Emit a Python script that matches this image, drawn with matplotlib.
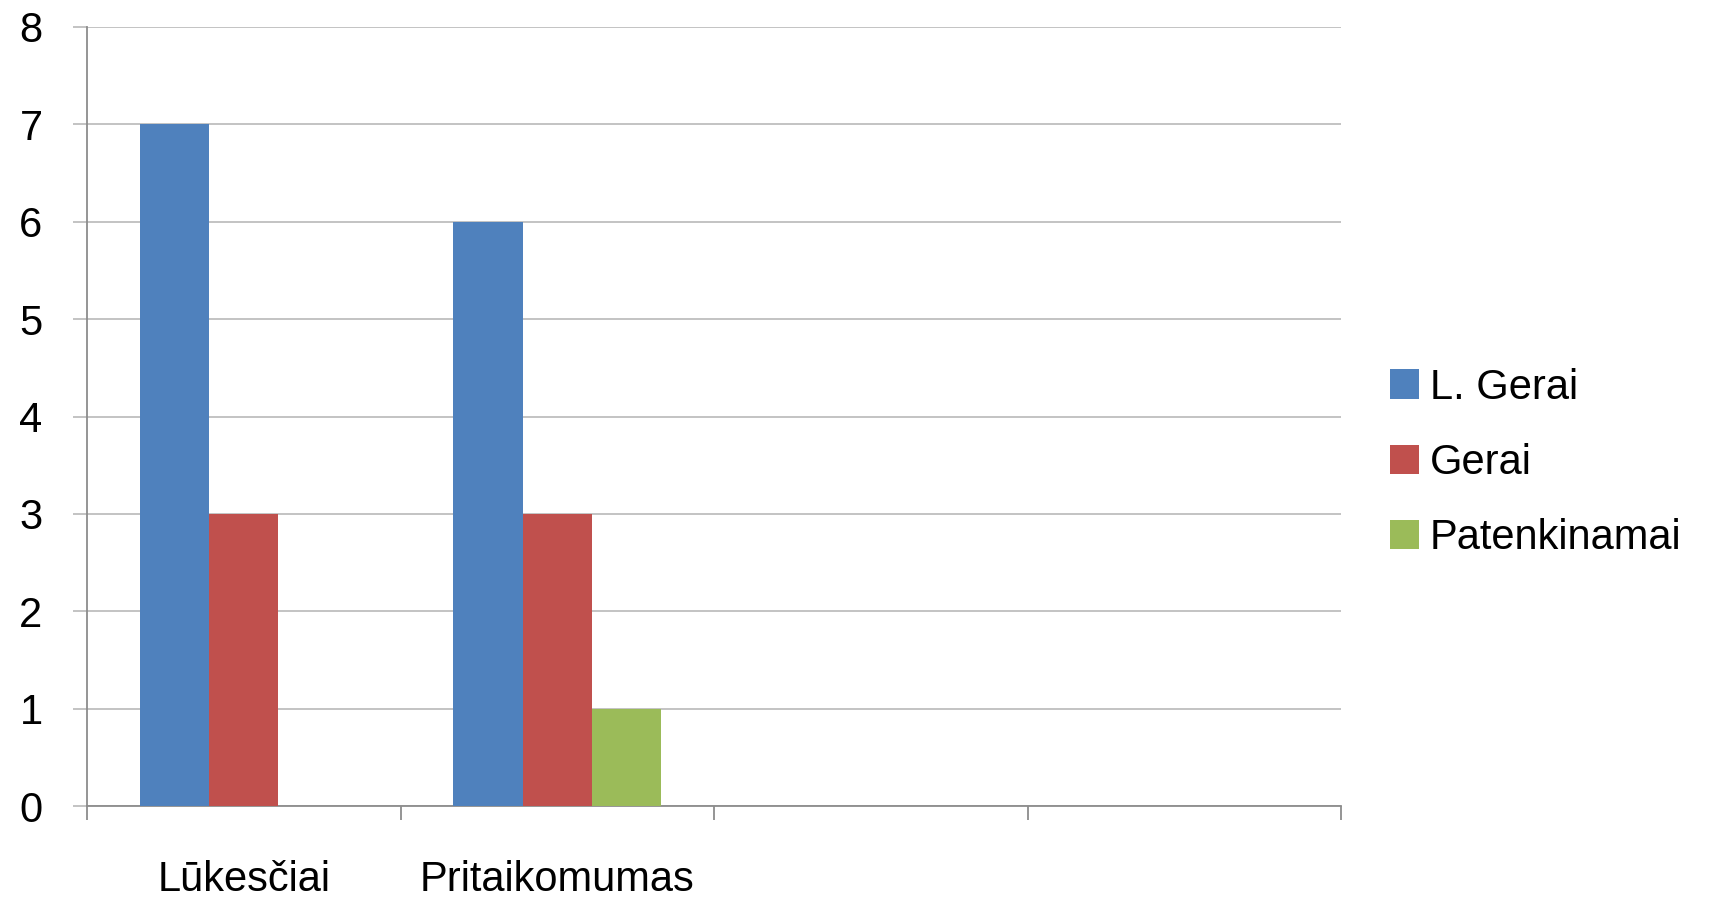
import numpy as np
import matplotlib
matplotlib.use("Agg")
import matplotlib.pyplot as plt
from matplotlib import font_manager

categories = ["Lūkesčiai", "Pritaikomumas", "", ""]
series_names = ["L. Gerai", "Gerai", "Patenkinamai"]
l_gerai = [7, 6, 0, 0]
gerai = [3, 3, 0, 0]
patenkinamai = [0, 1, 0, 0]
yticks = [0, 1, 2, 3, 4, 5, 6, 7, 8]

colors = ["#4F81BD", "#C0504D", "#9BBB59"]

names = {f.name for f in font_manager.fontManager.ttflist}
if "Liberation Sans Narrow" in names:
    fam = ["Liberation Sans Narrow", "DejaVu Sans"]
    fs = 35
else:
    fam = ["Liberation Sans", "DejaVu Sans"]
    fs = 30
plt.rcParams["font.family"] = fam

W, H = 1710, 902
fig = plt.figure(figsize=(W / 100, H / 100), dpi=100)
ax = fig.add_axes([87 / W, 1 - 806 / H, (1341 - 87) / W, (806 - 27) / H])

x = np.arange(len(categories))
bw = 0.221
for i, (vals, name, c) in enumerate(zip([l_gerai, gerai, patenkinamai], series_names, colors)):
    ax.bar(x + (i - 1) * bw, vals, width=bw, color=c, label=name, linewidth=0, zorder=3)

ax.set_xlim(-0.5, len(categories) - 0.5)
ax.set_ylim(0, 8)
ax.set_yticks(yticks)
ax.set_yticklabels([str(v) for v in yticks])
ax.set_xticks(x)
ax.set_xticklabels(categories)
ax.set_xticks(np.arange(len(categories) + 1) - 0.5, minor=True)

grid_c = "#BEBEBE"
ax.grid(axis="y", color=grid_c, linewidth=1.3, zorder=0)
for s in ["top", "right"]:
    ax.spines[s].set_visible(False)
ax.spines["left"].set_color("#8C8C8C")
ax.spines["bottom"].set_color("#8C8C8C")
ax.spines["left"].set_linewidth(1.3)
ax.spines["bottom"].set_linewidth(1.3)

ax.tick_params(axis="y", direction="out", length=10, width=1.3, color=grid_c,
               pad=22, labelsize=fs, labelcolor="black")
ax.tick_params(axis="x", which="major", length=0, pad=39, labelsize=fs, labelcolor="black")
ax.tick_params(axis="x", which="minor", direction="out", length=10, width=1.3, color="#8C8C8C")

fig.legend(loc="center left", bbox_to_anchor=(1390 / W, 1 - 463 / H), frameon=False,
           fontsize=fs, handlelength=0.7, handleheight=0.7, handletextpad=0.25,
           labelspacing=0.85, borderpad=0, borderaxespad=0)

fig.savefig("out.png", dpi=100, facecolor="white")
